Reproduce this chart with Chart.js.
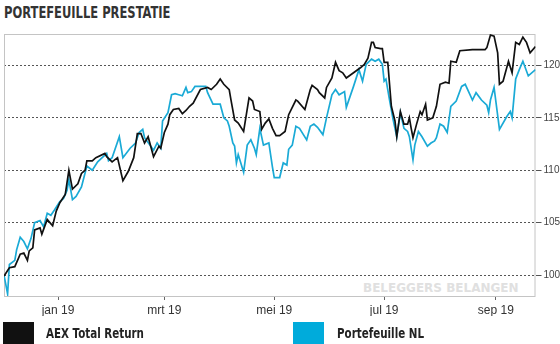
<!DOCTYPE html>
<html>
<head>
<meta charset="utf-8">
<script src="https://cdn.jsdelivr.net/npm/chart.js@4/dist/chart.umd.min.js"></script>
<style>
    body { margin: 0; background: #fff; }
    #page { position: relative; width: 560px; height: 344px; overflow: hidden; background: #fff; }
    #title { position: absolute; left: 4px; top: 3px; font: bold 16px "DejaVu Sans Condensed", sans-serif; color: #333; white-space: nowrap;
             transform: scaleX(0.8); transform-origin: left top; }
    #watermark { position: absolute; left: 363px; top: 281px; font: bold 12px "DejaVu Sans", sans-serif; color: #e0e0e0; white-space: nowrap;
                 transform: scaleX(1.0); transform-origin: left top; }
    #chart { position: absolute; left: 0; top: 0; }
    .swatch { position: absolute; top: 322px; width: 31px; height: 22px; }
    .legend-text { position: absolute; top: 325px; font: bold 14px "DejaVu Sans Condensed", sans-serif; color: #222; white-space: nowrap;
                   transform: scaleX(0.82); transform-origin: left top; }
</style>
</head>
<body>
<div id="page">
    <div id="title">PORTEFEUILLE PRESTATIE</div>
    <div id="watermark">BELEGGERS BELANGEN</div>
    <canvas id="chart" width="560" height="344"></canvas>
    <div class="swatch" style="left:3px; background:#111;"></div>
    <div class="legend-text" style="left:46px;">AEX Total Return</div>
    <div class="swatch" style="left:293px; background:#00abdb;"></div>
    <div class="legend-text" style="left:337px;">Portefeuille NL</div>
</div>
<script>
// days counted from 1 jan 2019
const tickDays = [0, 59, 120, 181, 243];
const tickLabels = ['jan 19', 'mrt 19', 'mei 19', 'jul 19', 'sep 19'];
const yTicks = [100, 105, 110, 115, 120];

const aexDays = [-30, -27, -24, -21, -19, -17, -16, -14, -13, -10, -9, -6, -5, -3, -1, 1, 4, 6, 8, 11,
    13, 15, 16, 19, 21, 26, 27, 30, 33, 36, 39, 42, 44, 46, 48, 50, 53, 56, 57, 59,
    61, 62, 64, 67, 69, 71, 73, 75, 79, 83, 85, 88, 90, 92, 95, 96, 98, 100, 103, 106,
    108, 109, 112, 113, 115, 117, 119, 121, 123, 126, 128, 132, 133, 137, 140, 141, 144, 145, 148, 149,
    152, 154, 156, 158, 160, 164, 168, 170, 172, 174, 175, 176, 179, 180, 181, 183, 185, 187, 188, 190,
    192, 194, 195, 196, 197, 199, 201, 202, 204, 205, 208, 210, 212, 215, 217, 218, 221, 223, 230, 237,
    238, 240, 242, 244, 245, 247, 250, 252, 254, 256, 258, 260, 262, 265];
const aexValues = [99.9, 100.7, 100.8, 102.0, 102.1, 101.4, 102.3, 102.6, 104.3, 104.5, 103.9, 105.3, 105.1, 104.7, 106.1, 106.9, 107.7, 110.0, 108.2, 108.7,
    109.7, 110.0, 110.9, 110.9, 111.2, 111.6, 111.3, 110.8, 111.2, 109.0, 109.9, 111.2, 113.5, 113.5, 112.6, 113.2, 111.3, 112.3, 112.1, 113.6,
    114.4, 115.3, 115.8, 115.9, 115.4, 115.7, 116.1, 116.4, 117.7, 117.9, 117.7, 118.2, 118.7, 118.2, 117.7, 116.7, 114.8, 114.5, 113.7, 116.9,
    116.6, 115.8, 115.6, 113.9, 114.5, 114.9, 114.0, 113.3, 113.3, 113.7, 115.3, 116.7, 116.6, 115.8, 117.7, 118.1, 117.7, 117.4, 116.9, 117.9,
    118.8, 120.3, 119.5, 119.3, 118.8, 119.3, 119.8, 120.1, 120.7, 122.2, 122.2, 121.7, 121.6, 121.6, 120.3, 120.3, 116.1, 114.7, 113.2, 115.6,
    114.4, 114.4, 115.0, 114.0, 113.1, 114.4, 115.6, 115.3, 116.3, 114.8, 115.0, 116.1, 118.2, 118.4, 118.3, 120.4, 120.3, 121.4, 121.5, 121.5,
    121.7, 122.9, 122.8, 121.2, 118.2, 118.5, 120.4, 119.3, 122.2, 122.0, 122.7, 122.2, 121.2, 121.8];

const nlDays = [-30, -28, -27, -24, -23, -21, -19, -17, -15, -13, -10, -8, -6, -4, -2, 1, 3, 5, 6, 8,
    10, 13, 16, 19, 22, 27, 28, 30, 34, 36, 40, 43, 45, 47, 48, 51, 53, 55, 57, 58,
    61, 63, 65, 67, 69, 71, 72, 74, 76, 82, 83, 86, 90, 92, 94, 95, 97, 98, 99, 100,
    103, 105, 107, 109, 110, 112, 114, 117, 119, 120, 123, 125, 127, 128, 130, 132, 134, 138, 140, 142,
    144, 147, 149, 152, 154, 156, 159, 160, 164, 167, 169, 171, 174, 176, 178, 180, 181, 182, 184, 186,
    188, 190, 192, 194, 195, 197, 198, 200, 202, 205, 207, 209, 210, 212, 214, 216, 218, 221, 224, 226,
    230, 232, 235, 238, 239, 240, 242, 245, 249, 251, 252, 254, 256, 258, 261, 265];
const nlValues = [100.0, 98.2, 101.0, 101.4, 102.4, 103.6, 103.2, 102.5, 103.5, 105.0, 105.2, 104.6, 105.9, 105.7, 106.2, 107.0, 107.3, 108.1, 109.1, 107.2,
    107.5, 108.4, 110.4, 110.0, 110.8, 111.6, 110.9, 111.2, 113.2, 111.2, 112.1, 112.6, 113.6, 113.9, 113.1, 112.4, 111.9, 112.6, 112.1, 114.7,
    115.5, 117.2, 117.3, 117.2, 117.1, 117.9, 117.4, 117.5, 118.0, 118.0, 117.4, 116.3, 116.3, 115.0, 114.7, 114.2, 112.6, 112.3, 110.7, 111.5,
    109.8, 112.4, 112.9, 112.1, 111.5, 114.0, 112.4, 112.6, 110.3, 109.3, 109.3, 110.7, 110.5, 112.0, 112.4, 114.2, 114.0, 112.9, 114.2, 114.4,
    114.1, 113.4, 115.0, 117.2, 117.7, 117.2, 117.5, 116.0, 118.0, 119.6, 118.5, 120.1, 120.6, 120.4, 120.6, 120.1, 118.5, 118.7, 116.7, 114.8,
    113.2, 115.5, 114.0, 113.7, 113.2, 111.0, 112.4, 113.7, 113.2, 112.3, 112.6, 112.8, 113.1, 114.4, 114.2, 113.6, 116.1, 116.6, 118.0, 118.2,
    116.7, 117.4, 116.7, 116.2, 115.5, 116.7, 117.9, 113.9, 115.1, 115.6, 115.0, 118.7, 119.6, 120.4, 119.0, 119.6];

const toPoints = (days, values) => days.map((d, i) => ({ x: d, y: values[i] }));

const plotBox = {
    id: 'plotBox',
    beforeDatasetsDraw(chart) {
        const { ctx, chartArea } = chart;
        ctx.save();
        ctx.strokeStyle = '#c4c4c4';
        ctx.lineWidth = 1;
        ctx.strokeRect(chartArea.left + 0.5, chartArea.top + 0.5,
            chartArea.right - chartArea.left - 1, chartArea.bottom - chartArea.top);
        ctx.restore();
    }
};

new Chart(document.getElementById('chart'), {
    type: 'line',
    data: {
        datasets: [
            {
                label: 'AEX Total Return',
                data: toPoints(aexDays, aexValues),
                borderColor: '#111111',
                borderWidth: 1.7,
                pointRadius: 0,
                tension: 0
            },
            {
                label: 'Portefeuille NL',
                data: toPoints(nlDays, nlValues),
                borderColor: '#1aaad6',
                borderWidth: 1.7,
                pointRadius: 0,
                tension: 0
            }
        ]
    },
    options: {
        responsive: false,
        animation: false,
        layout: { padding: { top: 34, left: 4, right: 0, bottom: 28 } },
        plugins: { legend: { display: false }, tooltip: { enabled: false } },
        scales: {
            x: {
                type: 'linear',
                min: -30,
                max: 265,
                afterBuildTicks: (scale) => { scale.ticks = tickDays.map(v => ({ value: v })); },
                afterFit: (scale) => { scale.height = 20; },
                grid: { drawOnChartArea: false, drawTicks: true, tickLength: 4, color: '#666' },
                border: { display: false },
                ticks: {
                    autoSkip: false,
                    maxRotation: 0,
                    padding: 3,
                    color: '#333',
                    font: { family: 'Liberation Sans', size: 12 },
                    callback: (v, i) => tickLabels[i]
                }
            },
            y: {
                position: 'right',
                min: 98,
                max: 123,
                afterBuildTicks: (scale) => { scale.ticks = yTicks.map(v => ({ value: v })); },
                afterFit: (scale) => { scale.width = 24.5; },
                grid: { color: '#555', lineWidth: 1, drawTicks: true, tickLength: 6 },
                border: { display: false, dash: [2, 2] },
                ticks: {
                    padding: 2,
                    color: '#444',
                    font: { family: 'Liberation Sans', size: 10 }
                }
            }
        }
    },
    plugins: [plotBox]
});
</script>
</body>
</html>
